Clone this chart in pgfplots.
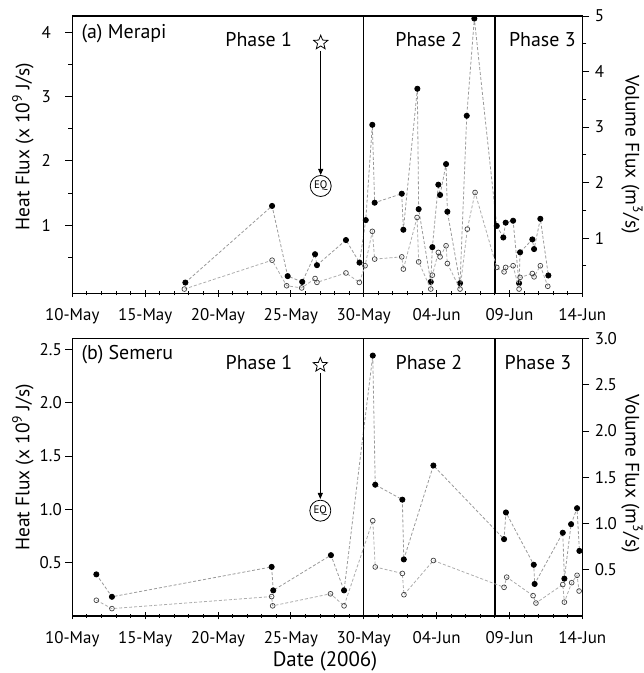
\documentclass[border=0pt]{standalone}
\usepackage{pgfplots}
\pgfplotsset{compat=1.18}
\usepackage{pgfplotstable}
\usepackage{fontspec}
\setmainfont{PT Sans}
\usetikzlibrary{shapes.geometric,arrows.meta}

\pgfplotstableread{
d v
7.76 0.11
13.71 1.30
14.78 0.21
15.78 0.12
16.66 0.55
16.79 0.38
18.78 0.77
19.71 0.42
20.14 1.08
20.59 2.56
20.75 1.35
22.61 1.49
22.72 0.93
23.68 3.12
23.77 1.25
24.60 0.12
24.71 0.66
25.12 1.63
25.24 1.47
25.65 1.95
25.74 1.21
26.61 0.10
27.07 2.70
27.59 4.21
29.13 0.99
29.58 0.81
29.74 1.04
30.25 1.07
30.66 0.10
30.73 0.58
31.57 0.78
31.69 0.63
32.12 1.10
32.67 0.22
}\mheat
\pgfplotstableread{
d v
7.69 0.08
13.71 0.60
14.71 0.14
15.74 0.10
16.66 0.27
16.79 0.20
18.78 0.37
19.70 0.20
20.09 0.50
20.59 1.12
20.75 0.62
22.61 0.66
22.72 0.44
23.66 1.37
23.77 0.57
24.60 0.08
24.71 0.33
25.12 0.74
25.24 0.66
25.65 0.86
25.74 0.54
26.61 0.08
27.11 1.16
27.64 1.82
29.13 0.47
29.63 0.39
29.74 0.47
30.25 0.50
30.66 0.08
30.73 0.29
31.57 0.36
31.69 0.30
32.12 0.50
32.63 0.13
}\mvol
\pgfplotstableread{
d v
1.65 0.39
2.72 0.18
13.68 0.46
13.79 0.24
17.75 0.57
18.65 0.24
20.62 2.44
20.79 1.23
22.65 1.09
22.75 0.53
24.78 1.41
29.63 0.72
29.76 0.97
31.67 0.48
31.73 0.30
33.66 0.78
33.77 0.35
34.23 0.86
34.64 1.01
34.80 0.61
}\sheat
\pgfplotstableread{
d v
1.65 0.17
2.72 0.08
13.68 0.21
13.75 0.11
17.72 0.24
18.65 0.11
20.62 1.03
20.79 0.53
22.65 0.46
22.76 0.23
24.78 0.60
29.63 0.31
29.81 0.42
31.62 0.22
31.82 0.14
33.66 0.34
33.77 0.15
34.27 0.36
34.64 0.44
34.78 0.27
}\svol

\pgfplotsset{
  panel/.style={scale only axis, width=510bp, height=277.5bp, anchor=south west,
    xmin=0, xmax=35, axis line style={line width=1.2bp}, every tick/.style={black, line width=0.8bp},
    tick label style={font=\fontsize{17}{17}\selectfont}},
  heat/.style={gray!80, line width=0.8bp, dash pattern=on 3bp off 2bp, mark=*, mark size=2.6bp,
    mark options={solid, fill=black, draw=black}},
  vol/.style={gray!65, line width=0.8bp, dash pattern=on 3bp off 2bp, mark=o, mark size=2.4bp,
    mark options={solid, fill=white, draw=black!75, line width=0.7bp}},
  leftax/.style={panel, xtick pos=bottom, ytick pos=left, xtick={0,5,...,35},
    xticklabels={10-May,15-May,20-May,25-May,30-May,04-Jun,09-Jun,14-Jun},
    minor xtick={0,...,35}, xtick align=center, ytick align=outside,
    major tick length=7bp, minor tick length=4bp,
    xticklabel style={yshift=-8bp}},
  rightax/.style={panel, axis x line=none, axis y line*=right, ytick align=outside,
    major tick length=7bp, minor tick length=4bp, yticklabel style={xshift=2bp}},
}

\begin{document}
\begin{tikzpicture}
\useasboundingbox (0,0) rectangle (644bp,673bp);
% ---------- top panel ----------
\begin{axis}[leftax, at={(72.3bp,379.5bp)}, ymin=-0.06, ymax=4.25,
  ytick={1,2,3,4}, yticklabels={1,2,3,4}, minor ytick={0.5,1.5,2.5,3.5},
  yticklabel style={xshift=-11bp}]
\addplot[heat] table[x=d,y=v] {\mheat};
\draw[line width=1.4bp] (axis cs:20,-0.06) -- (axis cs:20,4.25);
\draw[line width=1.4bp] (axis cs:29,-0.06) -- (axis cs:29,4.25);
\end{axis}
\begin{axis}[rightax, at={(72.3bp,379.5bp)}, ymin=0, ymax=5,
  ytick={1,2,3,4,5}, yticklabels={1,2,3,4,5}, minor ytick={0.5,1.5,2.5,3.5,4.5}]
\addplot[vol] table[x=d,y=v] {\mvol};
\end{axis}
% ---------- bottom panel ----------
\begin{axis}[leftax, at={(72.3bp,57bp)}, ymin=0, ymax=2.6,
  ytick={0.5,1,1.5,2,2.5}, yticklabels={0.5,1.0,1.5,2.0,2.5}]
\addplot[heat] table[x=d,y=v] {\sheat};
\draw[line width=1.4bp] (axis cs:20,0) -- (axis cs:20,2.6);
\draw[line width=1.4bp] (axis cs:29,0) -- (axis cs:29,2.6);
\end{axis}
\begin{axis}[rightax, at={(72.3bp,57bp)}, ymin=0, ymax=3,
  ytick={0.5,1,1.5,2,2.5,3}, yticklabels={0.5,1.0,1.5,2.0,2.5,3.0}]
\addplot[vol] table[x=d,y=v] {\svol};
\end{axis}
% ---------- annotations ----------
\tikzset{lab/.style={font=\fontsize{20}{20}\selectfont},
         alab/.style={font=\fontsize{19.5}{19.5}\selectfont}}
\node[lab, anchor=west] at (78bp,639.7bp) {(a) Merapi};
\node[lab] at (258.7bp,633bp) {Phase 1};
\node[lab] at (428.7bp,633bp) {Phase 2};
\node[lab] at (542.3bp,633bp) {Phase 3};
\node[star, star points=5, star point ratio=2.3, draw, line width=0.8bp, minimum size=15bp, inner sep=0pt] at (320.7bp,630.3bp) {};
\draw[line width=0.8bp, -{Triangle[length=6bp,width=5bp]}] (320.7bp,622bp) -- (320.7bp,498bp);
\node[circle, draw, line width=0.8bp, minimum size=21bp, inner sep=0pt, font=\fontsize{11}{11}\selectfont] at (320.7bp,487bp) {EQ};

\node[lab, anchor=west] at (78bp,318bp) {(b) Semeru};
\node[lab] at (259bp,310.3bp) {Phase 1};
\node[lab] at (429bp,310.3bp) {Phase 2};
\node[lab] at (538bp,310.3bp) {Phase 3};
\node[star, star points=5, star point ratio=2.3, draw, line width=0.8bp, minimum size=15bp, inner sep=0pt] at (320.3bp,308bp) {};
\draw[line width=0.8bp, -{Triangle[length=6bp,width=5bp]}] (320.3bp,300bp) -- (320.3bp,174bp);
\node[circle, draw, line width=0.8bp, minimum size=21bp, inner sep=0pt, font=\fontsize{11}{11}\selectfont] at (320.3bp,162.3bp) {EQ};

\node[alab, rotate=90] at (23bp,526.3bp) {Heat Flux (x 10\textsuperscript{9} J/s)};
\node[alab, rotate=90] at (23bp,205.5bp) {Heat Flux (x 10\textsuperscript{9} J/s)};
\node[alab, rotate=-90] at (632bp,518.5bp) {Volume Flux (m\textsuperscript{3}/s)};
\node[alab, rotate=-90] at (632bp,199bp) {Volume Flux (m\textsuperscript{3}/s)};
\node[font=\fontsize{21}{21}\selectfont] at (325bp,11.3bp) {Date (2006)};
\end{tikzpicture}
\end{document}
